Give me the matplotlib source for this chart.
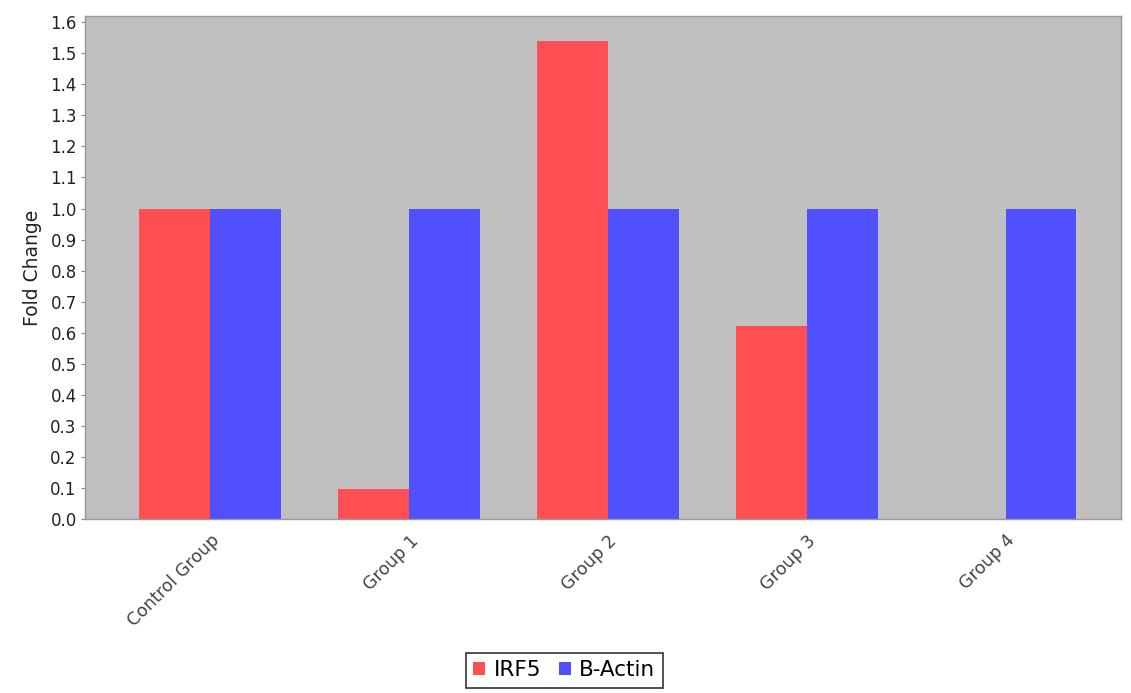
import numpy as np
import matplotlib
matplotlib.use("Agg")
import matplotlib.pyplot as plt

# data
groups = ["Control Group", "Group 1", "Group 2", "Group 3", "Group 4"]
irf5 = [1.0, 0.095, 1.54, 0.62, 0.0]
b_actin = [1.0, 1.0, 1.0, 1.0, 1.0]

RED = "#ff4f52"
BLUE = "#5050ff"
BAR_W = 0.357

fig = plt.figure(figsize=(11.31, 6.93), dpi=100)
ax = fig.add_axes([0.0752, 0.2511, 0.9158, 0.7258])
ax.set_facecolor("#c0c0c0")

x = np.arange(len(groups))
ax.bar(x - BAR_W / 2, irf5, BAR_W, color=RED, label="IRF5")
ax.bar(x + BAR_W / 2, b_actin, BAR_W, color=BLUE, label="B-Actin")

ax.set_xlim(-0.63, 4.58)
ax.set_ylim(0, 1.62)
ax.set_yticks(np.arange(0, 1.61, 0.1))
ax.set_yticklabels(["%.1f" % v for v in np.arange(0, 1.61, 0.1)], fontsize=12, color="#222222")
ax.set_ylabel("Fold Change", fontsize=13.5, color="#222222", labelpad=6)

ax.set_xticks(x)
ax.set_xticklabels(groups, rotation=45, ha="right", rotation_mode="anchor",
                   fontsize=12.5, color="#444444")
ax.tick_params(axis="x", length=0, pad=9)
ax.tick_params(axis="y", length=3, color="#888888", pad=3)

for s in ax.spines.values():
    s.set_color("#999999")
    s.set_linewidth(1.0)

leg = fig.legend(loc="lower center", bbox_to_anchor=(0.499, -0.008), ncol=2,
                 fontsize=15.5, frameon=True, fancybox=False, handlelength=0.55,
                 handleheight=0.55, handletextpad=0.4, columnspacing=0.8,
                 borderpad=0.35, edgecolor="black")
leg.get_frame().set_linewidth(1.2)

fig.savefig("out.png", dpi=100)
